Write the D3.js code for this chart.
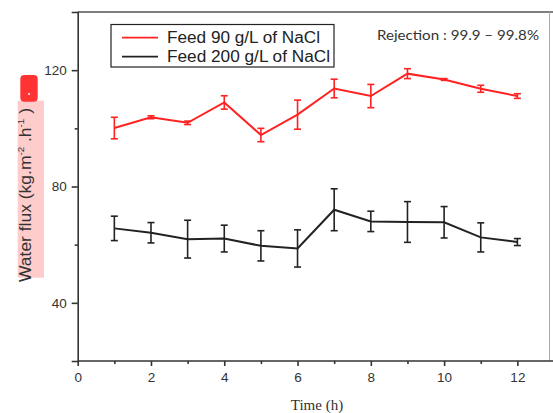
<!DOCTYPE html>
<html><head><meta charset="utf-8">
<script src="https://cdn.jsdelivr.net/npm/d3@7"></script>
<style>body{margin:0;background:#fff}svg{display:block}</style>
</head><body>
<script>
const hours = [1,2,3,4,5,6,7,8,9,10,11,12];
const feed90 = [100.1,103.8,101.9,108.9,97.7,104.7,113.7,111.1,118.8,116.8,113.6,111.1];
const feed90Err = [3.7,0.5,0.6,2.3,2.3,5.0,3.2,4.0,1.7,0.3,1.2,0.8];
const feed200 = [65.6,64.1,61.9,62.1,59.6,58.7,72.0,68.0,67.8,67.7,62.5,60.9];
const feed200Err = [4.2,3.5,6.5,4.6,5.2,6.4,7.2,3.5,7.0,5.4,5.0,1.2];
const xTicks = [0,2,4,6,8,10,12];
const xMinor = [1,3,5,7,9,11];
const yTicks = [40,80,120];
const yMinor = [60,100];
const legendLabels = ["Feed 90 g/L of NaCl","Feed 200 g/L of NaCl"];
const colors = ["#ff2222","#222222"];

const W=553,H=413;
const svg=d3.select("body").append("svg").attr("width",W).attr("height",H);
const x=d3.scaleLinear().domain([0,12.89]).range([77.7,550]);
const y=d3.scaleLinear().domain([20,140]).range([361,12]);
const axisCol="#333";

// frame top/right
svg.append("line").attr("x1",77.7).attr("x2",553).attr("y1",12).attr("y2",12).attr("stroke","#555").attr("stroke-width",1.5);
svg.append("line").attr("x1",549.5).attr("x2",549.5).attr("y1",12).attr("y2",361).attr("stroke","#aaa").attr("stroke-width",1);

// axes
const xAx=svg.append("g").attr("transform","translate(0,361)")
  .call(d3.axisBottom(x).tickValues(xTicks).tickSize(5).tickPadding(6).tickFormat(d3.format("d")));
const xAxMin=svg.append("g").attr("transform","translate(0,361)")
  .call(d3.axisBottom(x).tickValues(xMinor).tickSize(3).tickFormat(""));
xAx.select(".domain").attr("d","M77.7,0H553");
xAxMin.select(".domain").remove();
const yAx=svg.append("g").attr("transform","translate(77.7,0)")
  .call(d3.axisLeft(y).tickValues(yTicks).tickSize(6).tickPadding(5).tickFormat(d3.format("d")));
const yAxMin=svg.append("g").attr("transform","translate(77.7,0)")
  .call(d3.axisLeft(y).tickValues(yMinor).tickSize(3).tickFormat(""));
yAxMin.select(".domain").remove();
svg.selectAll(".domain,.tick line").attr("stroke",axisCol).attr("stroke-width",1.6);
svg.selectAll(".tick text").attr("fill","#333").style("font-family","'Liberation Sans',Arial,sans-serif").style("font-size","13.5px");

// data series
const series=[{v:feed90,e:feed90Err,c:colors[0]},{v:feed200,e:feed200Err,c:colors[1]}];
const line=d3.line().x(d=>x(d[0])).y(d=>y(d[1]));
series.forEach(s=>{
  const pts=hours.map((h,i)=>[h,s.v[i],s.e[i]]);
  svg.append("path").datum(pts).attr("d",line).attr("fill","none").attr("stroke",s.c).attr("stroke-width",2);
  const g=svg.append("g").attr("stroke",s.c).attr("stroke-width",1.6);
  pts.forEach(p=>{
    const cx=x(p[0]),t=y(p[1]+p[2]),b=y(p[1]-p[2]);
    g.append("line").attr("x1",cx).attr("x2",cx).attr("y1",t).attr("y2",b);
    g.append("line").attr("x1",cx-3.5).attr("x2",cx+3.5).attr("y1",t).attr("y2",t);
    g.append("line").attr("x1",cx-3.5).attr("x2",cx+3.5).attr("y1",b).attr("y2",b);
  });
});

// legend
svg.append("rect").attr("x",111).attr("y",24.5).attr("width",223).attr("height",42.5)
  .attr("fill","#fff").attr("stroke","#222").attr("stroke-width",1.2);
legendLabels.forEach((l,i)=>{
  const ly=37.7+i*19;
  svg.append("line").attr("x1",122).attr("x2",158).attr("y1",ly).attr("y2",ly).attr("stroke",colors[i]).attr("stroke-width",1.8);
  svg.append("text").attr("x",167).attr("y",ly+5.5).text(l).attr("fill","#222")
    .style("font-family","'Liberation Sans',Arial,sans-serif").style("font-size","16px")
    .attr("textLength",i===0?153:163).attr("lengthAdjust","spacingAndGlyphs");
});

// rejection text
svg.append("text").attr("x",377).attr("y",39.5).text("Rejection : 99.9 \u2013 99.8%")
  .attr("fill","#333").style("font-family","Lato,'Open Sans',sans-serif").style("font-size","13px")
  .attr("textLength",162).attr("lengthAdjust","spacingAndGlyphs");

// y label with pink highlight
svg.append("rect").attr("x",17.7).attr("y",100.7).attr("width",26.3).attr("height",177).attr("fill","#ffcccc");
svg.append("rect").attr("x",20.3).attr("y",75).attr("width",17.4).attr("height",26.7).attr("rx",4).attr("fill","#ff3333");
svg.append("circle").attr("cx",29).attr("cy",94).attr("r",1).attr("fill","#fff");
const yl=svg.append("text").attr("transform","translate(31,195) rotate(-90)").attr("text-anchor","middle")
  .attr("fill","#333").style("font-family","'Liberation Sans',Arial,sans-serif").style("font-size","16px")
  .attr("textLength",174).attr("lengthAdjust","spacingAndGlyphs");
yl.append("tspan").text("Water flux (kg.m");
yl.append("tspan").text("-2").attr("dy",-7).style("font-size","9px");
yl.append("tspan").text(" .h").attr("dy",7);
yl.append("tspan").text("-1").attr("dy",-7).style("font-size","9px");
yl.append("tspan").text(" )").attr("dy",7);

// x label
svg.append("text").attr("x",317).attr("y",410).attr("text-anchor","middle").text("Time (h)")
  .attr("fill","#333").style("font-family","'Liberation Serif','Times New Roman',serif").style("font-size","15px");
</script>
</body></html>
